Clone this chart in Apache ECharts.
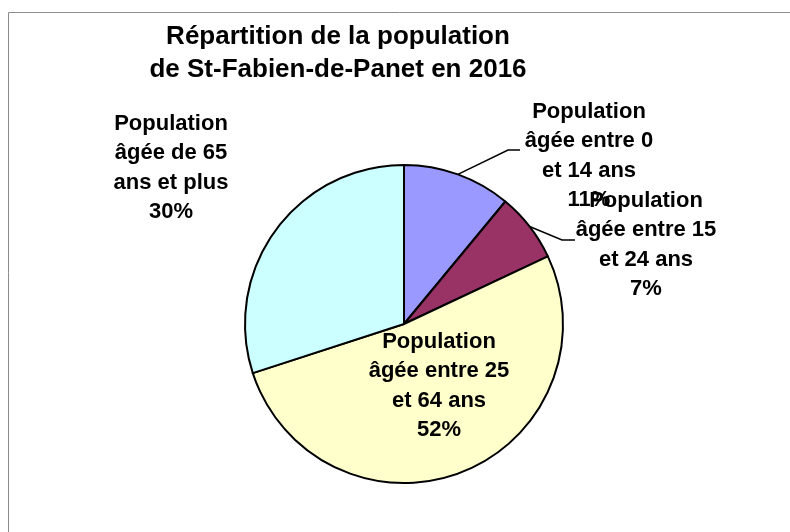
<!DOCTYPE html>
<html>
<head>
<meta charset="utf-8">
<script src="https://cdn.jsdelivr.net/npm/echarts@6/dist/echarts.min.js"></script>
<style>
  html, body { margin: 0; padding: 0; background: #fff; }
  #chart { width: 790px; height: 532px; }
</style>
</head>
<body>
<div id="chart"></div>
<script>
const categories = [
  'Population\nâgée entre 0\net 14 ans',
  'Population\nâgée entre 15\net 24 ans',
  'Population\nâgée entre 25\net 64 ans',
  'Population\nâgée de 65\nans et plus'
]
const percents = [11, 7, 52, 30]
const colors = ['#9999FF', '#993366', '#FFFFCC', '#CCFFFF']

// where each label block sits (centre of the text) and its leader line elbow
const labelSpots = [
  { x: 589, y: 156, elbow: [[508, 150], [520, 150]] },
  { x: 646, y: 245, elbow: [[562, 240], [575, 240]] },
  { x: 439, y: 386, elbow: null },
  { x: 171, y: 168, elbow: null }
]

const FONT = '"Liberation Sans", Arial, sans-serif'

const chart = echarts.init(document.getElementById('chart'))

const option = {
  animation: false,
  title: {
    text: 'Répartition de la population\nde St-Fabien-de-Panet en 2016',
    left: 338,
    top: 20,
    padding: 0,
    textAlign: 'center',
    textStyle: {
      fontFamily: FONT,
      fontSize: 26,
      fontWeight: 'bold',
      color: '#000',
      lineHeight: 33
    }
  },
  graphic: [
    {
      type: 'rect',
      shape: { x: 8.5, y: 12.5, width: 1000, height: 1000 },
      style: { fill: null, stroke: '#8c8c8c', lineWidth: 1 },
      silent: true
    }
  ],
  series: [
    {
      type: 'pie',
      center: [404, 324],
      radius: 159,
      startAngle: 90,
      clockwise: true,
      avoidLabelOverlap: false,
      itemStyle: { borderColor: '#000', borderWidth: 2 },
      label: {
        show: true,
        formatter: p => p.name + '\n' + p.value + '%',
        fontFamily: FONT,
        fontSize: 22,
        fontWeight: 'bold',
        lineHeight: 29.5,
        color: '#000',
        align: 'center'
      },
      labelLine: {
        show: true,
        lineStyle: { color: '#000', width: 1.5 }
      },
      labelLayout: function (params) {
        const s = labelSpots[params.dataIndex]
        const out = { x: s.x, y: s.y, align: 'center', verticalAlign: 'middle' }
        if (s.elbow && params.labelLinePoints) {
          out.labelLinePoints = [params.labelLinePoints[0], s.elbow[0], s.elbow[1]]
        }
        return out
      },
      data: categories.map((c, i) => ({
        name: c,
        value: percents[i],
        itemStyle: { color: colors[i] },
        labelLine: { show: !!labelSpots[i].elbow }
      }))
    }
  ]
}

chart.setOption(option)
</script>
</body>
</html>
